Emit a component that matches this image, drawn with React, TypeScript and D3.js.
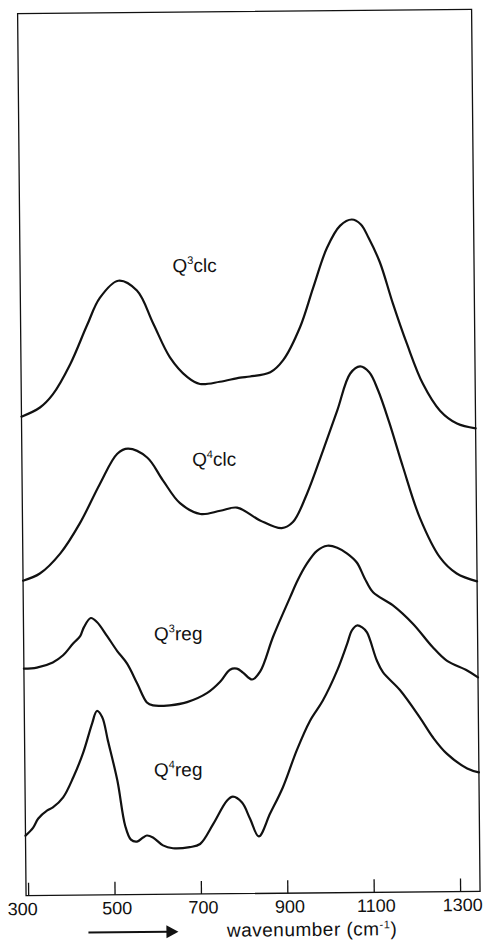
import React from 'react';
import * as d3 from 'd3';

// wavenumber (cm^-1) and intensity (a.u.), four stacked spectra
const wnQ3clc = [294, 337, 367, 408, 448, 478, 521, 564, 601, 639, 679, 708, 754, 801, 824, 871, 901, 941, 972, 1005, 1036, 1063, 1084, 1102, 1127, 1156, 1188, 1224, 1263, 1302, 1345];
const iQ3clc = [479, 488, 501, 531, 570, 597, 614, 604, 571, 537, 517, 510, 512, 516, 517, 521, 533, 566, 605, 645, 667, 673, 668, 654, 630, 589, 548, 508, 481, 468, 463];

const wnQ4clc = [294, 333, 381, 427, 474, 515, 540, 584, 620, 659, 706, 752, 791, 844, 894, 920, 953, 991, 1025, 1056, 1079, 1100, 1120, 1145, 1176, 1214, 1260, 1298, 1345];
const iQ4clc = [315, 322, 342, 372, 411, 441, 446, 437, 414, 391, 380, 383, 386, 373, 365, 371, 399, 442, 482, 519, 526, 520, 502, 470, 425, 374, 334, 318, 310];

const wnQ3reg = [294, 324, 361, 385, 409, 425, 434, 450, 464, 487, 510, 533, 556, 578, 592, 631, 671, 718, 748, 771, 787, 801, 822, 841, 872, 912, 930, 951, 975, 999, 1022, 1045, 1067, 1085, 1104, 1149, 1196, 1240, 1273, 1320, 1345];
const iQ3reg = [227, 228, 233, 240, 252, 259, 268, 277, 273, 259, 244, 231, 211, 192, 189, 189, 192, 201, 212, 224, 225, 221, 214, 222, 257, 296, 313, 329, 342, 347, 345, 339, 330, 314, 300, 287, 268, 245, 231, 221, 214];

const wnQ4reg = [294, 312, 324, 345, 358, 382, 406, 429, 451, 462, 474, 487, 508, 525, 538, 552, 566, 575, 589, 612, 635, 674, 698, 729, 761, 775, 796, 814, 834, 861, 891, 924, 955, 985, 1019, 1043, 1054, 1066, 1078, 1089, 1111, 1125, 1164, 1210, 1240, 1271, 1318, 1345];
const iQ4reg = [60, 68, 77, 85, 88, 98, 118, 142, 172, 184, 178, 154, 114, 69, 55, 53, 57, 59, 57, 49, 46, 47, 50, 70, 93, 97, 91, 75, 57, 80, 106, 143, 172, 192, 222, 249, 262, 267, 265, 260, 232, 220, 202, 174, 154, 138, 123, 119];

const seriesNames = ['3|clc', '4|clc', '3|reg', '4|reg'];
const labelWn = [647, 688, 596, 593];
const labelI = [622, 428, 254, 118];

const xTicks = [300, 500, 700, 900, 1100, 1300];
const xDomain = [294, 1345];
const yDomain = [0, 882];

const W = 485;
const H = 947;
const FONT = '"Liberation Sans", Arial, Helvetica, sans-serif';

export default function App() {
  const x = d3.scaleLinear().domain(xDomain).range([22, 476]);
  const y = d3.scaleLinear().domain(yDomain).range([893.5, 11.5]);

  const series = [
    { wn: wnQ3clc, v: iQ3clc },
    { wn: wnQ4clc, v: iQ4clc },
    { wn: wnQ3reg, v: iQ3reg },
    { wn: wnQ4reg, v: iQ4reg },
  ];

  const line = d3
    .line<[number, number]>()
    .x((d) => x(d[0]))
    .y((d) => y(d[1]))
    .curve(d3.curveCatmullRom.alpha(0.5));

  const x0 = x.range()[0];
  const x1 = x.range()[1];
  const yb = y.range()[0];
  const yt = y.range()[1];

  return (
    <svg
      width={W}
      height={H}
      viewBox={`0 0 ${W} ${H}`}
      style={{ position: 'absolute', left: 0, top: 0, display: 'block', background: '#fff' }}
    >
      <rect x={0} y={0} width={W} height={H} fill="#fff" />
      <g transform="rotate(-0.55 250 470)">
        {/* frame */}
        <rect x={x0} y={yt} width={x1 - x0} height={yb - yt} fill="none" stroke="#111" strokeWidth={1.3} />
        {/* ticks */}
        {xTicks.map((t) => (
          <line key={`t${t}`} x1={x(t)} x2={x(t)} y1={yb} y2={yb - 13} stroke="#111" strokeWidth={1.3} />
        ))}
        {xTicks.map((t, i) => (
          <text
            key={`l${t}`}
            x={x(t)}
            dx={i === 0 ? -6 : 2}
            y={913}
            textAnchor="middle"
            fontFamily={FONT}
            fontSize={18}
            fill="#111"
          >
            {t}
          </text>
        ))}
        {/* curves */}
        {series.map((s, i) => (
          <path
            key={`c${i}`}
            d={line(s.wn.map((w, j) => [w, s.v[j]] as [number, number])) || ''}
            fill="none"
            stroke="#111"
            strokeWidth={2.2}
            strokeLinejoin="round"
            strokeLinecap="round"
          />
        ))}
        {/* series labels */}
        {seriesNames.map((n, i) => {
          const [sup, rest] = n.split('|');
          return (
            <text key={`n${i}`} x={x(labelWn[i])} y={y(labelI[i])} fontFamily={FONT} fontSize={19} fill="#111">
              Q
              <tspan dy={-8} fontSize={11}>
                {sup}
              </tspan>
              <tspan dy={8}>{rest}</tspan>
            </text>
          );
        })}
        {/* arrow */}
        <line x1={84} x2={164} y1={931} y2={931} stroke="#111" strokeWidth={2} />
        <path d="M162,924.5 L174,931 L162,937.5 Z" fill="#111" />
        <text x={222.5} y={936.5} fontFamily={FONT} fontSize={19} letterSpacing={0.5} fill="#111">
          wavenumber (cm
          <tspan dy={-7} fontSize={11}>
            -1
          </tspan>
          <tspan dy={7}>)</tspan>
        </text>
      </g>
    </svg>
  );
}
